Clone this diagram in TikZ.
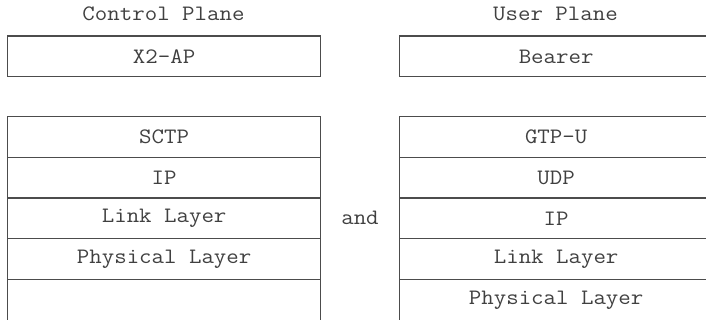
\documentclass[tikz,border=0pt]{standalone}
\usepackage{fontspec}
\setmonofont{Latin Modern Mono}[FakeStretch=1.1]
\begin{document}
\begin{tikzpicture}[x=1pt,y=-1pt,
  lay/.style={draw=black!70,line width=1.3pt,minimum width=313pt,minimum height=40.7pt,inner sep=0pt,anchor=north west,font=\ttfamily\fontsize{22}{24}\selectfont,text=black!75},
  lbl/.style={font=\ttfamily\fontsize{22}{24}\selectfont,text=black!75,inner sep=0pt}]
\useasboundingbox (0,0) rectangle (706,320);
\begin{scope}
\clip (0,0) rectangle (706,320);
\node[lbl] (cp) at (163.5,14) {Control Plane};
\node[lbl] (up) at (555.5,14) {User Plane};
\node[lay] (x2) at (7,35.5) {X2-AP};
\node[lay] (br) at (399,35.5) {Bearer};
\node[lay] (sctp) at (7,116) {SCTP};
\node[lay] (ipl) at (7,156.7) {IP};
\node[lay] (lll) at (7,197.4) {Link Layer};
\node[lay] (phl) at (7,238.1) {Physical Layer};
\node[lay] (eml) at (7,278.8) {};
\node[lay] (gtp) at (399,116) {GTP-U};
\node[lay] (udp) at (399,156.7) {UDP};
\node[lay] (ipr) at (399,197.4) {IP};
\node[lay] (llr) at (399,238.1) {Link Layer};
\node[lay] (phr) at (399,278.8) {Physical Layer};
\node[lbl] (and) at (360,218) {and};
\end{scope}
\end{tikzpicture}
\end{document}
